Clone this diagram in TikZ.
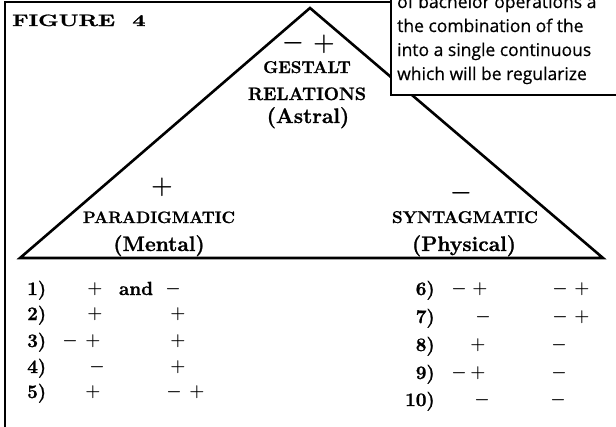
\documentclass[tikz,border=0pt]{standalone}
\usepackage{fontspec}
\usepackage{graphicx}
\setmainfont{Latin Modern Roman}[BoldFeatures={FakeBold=1.2}]
\newfontfamily\boxfont{Open Sans}[FakeBold=0.5]
\begin{document}
\begin{tikzpicture}[x=1pt,y=-1pt,
  tri/.style={line width=2.6pt, line join=miter},
  brd/.style={line width=2pt},
  head/.style={font=\bfseries\fontsize{17}{17}\selectfont, inner sep=0, anchor=base},
  paren/.style={font=\bfseries\fontsize{21}{21}\selectfont, inner sep=0, anchor=base},
  bigsign/.style={font=\boldmath\fontsize{25}{25}\selectfont, inner sep=0, anchor=base},
  sgn/.style={font=\boldmath\fontsize{19}{19}\selectfont, inner sep=0, anchor=base},
  num/.style={font=\bfseries\fontsize{19}{19}\selectfont, inner sep=0, anchor=base west},
  numr/.style={num, anchor=base east},
  boxtxt/.style={font=\boxfont\fontsize{17.5}{17.5}\selectfont, inner sep=0, anchor=base west}]
\useasboundingbox (0,0) rectangle (616,426);
\clip (0,0) rectangle (616,426);
% frame
\draw[brd] (391,2) -- (5,2) -- (5,430);
% triangle
\coordinate (apex) at (310,8);
\coordinate (bl) at (20,258);
\coordinate (br) at (603,258);
\draw[tri] (bl) -- (apex) -- (br) -- cycle;
% text box
\draw[line width=1.6pt, fill=white] (391,-5) rectangle (630,95);
\node[boxtxt] (b1) at (397,8) {of bachelor operations a};
\node[boxtxt] (b2) at (397,32) {the combination of the};
\node[boxtxt] (b3) at (397,56) {into a single continuous};
\node[boxtxt] (b4) at (397,80) {which will be regularize};
% title
\node[font=\bfseries\fontsize{16.5}{16.5}\selectfont, inner sep=0, anchor=base west] (title) at (12,26) {\scalebox{1.4}[1]{FIGURE\ \ 4}};
% apex labels
\node[bigsign] (am) at (293,49) {$-$};
\node[bigsign] (ap) at (324,50) {$+$};
\node[head] (g1) at (307,73) {GESTALT};
\node[head, font=\bfseries\fontsize{18}{18}\selectfont] (g2) at (307,100) {RELATIONS};
\node[paren] (g3) at (308,123) {(Astral)};
% left corner
\node[bigsign] (lp) at (162,193) {$+$};
\node[head, font=\bfseries\fontsize{16.5}{16.5}\selectfont] (p1) at (159,223) {PARADIGMATIC};
\node[paren] (p2) at (159,251) {(Mental)};
% right corner
\node[bigsign] (rm) at (461,199) {$-$};
\node[head] (s1) at (465,223) {SYNTAGMATIC};
\node[paren] (s2) at (464,251) {(Physical)};
% left table
\node[num] (n1) at (27,295) {1)};
\node[num] (n2) at (27,320) {2)};
\node[num] (n3) at (27,347) {3)};
\node[num] (n4) at (27,373) {4)};
\node[num] (n5) at (27,398) {5)};
\node[sgn] (t1a) at (95,293.5) {$+$};
\node[num, anchor=base] (t1b) at (136,295) {and};
\node[sgn] (t1c) at (173,293.5) {$-$};
\node[sgn] (t2a) at (95,318.5) {$+$};
\node[sgn] (t2b) at (178,318.5) {$+$};
\node[sgn] (t3a) at (70,345.5) {$-$};
\node[sgn] (t3b) at (93,345.5) {$+$};
\node[sgn] (t3c) at (178,345.5) {$+$};
\node[sgn] (t4a) at (97,371.5) {$-$};
\node[sgn] (t4b) at (178,371.5) {$+$};
\node[sgn] (t5a) at (93,396.5) {$+$};
\node[sgn] (t5b) at (174,396.5) {$-$};
\node[sgn] (t5c) at (197,396.5) {$+$};
% right table
\node[numr] (n6) at (435,295) {6)};
\node[numr] (n7) at (435,323) {7)};
\node[numr] (n8) at (435,351) {8)};
\node[numr] (n9) at (435,379) {9)};
\node[numr] (n10) at (435,406) {10)};
\node[sgn] (t6a) at (459,293.5) {$-$};
\node[sgn] (t6b) at (480,293.5) {$+$};
\node[sgn] (t6c) at (560,293.5) {$-$};
\node[sgn] (t6d) at (582,293.5) {$+$};
\node[sgn] (t7a) at (483,321.5) {$-$};
\node[sgn] (t7b) at (560,321.5) {$-$};
\node[sgn] (t7c) at (582,321.5) {$+$};
\node[sgn] (t8a) at (478,349.5) {$+$};
\node[sgn] (t8b) at (559,349.5) {$-$};
\node[sgn] (t9a) at (459,377.5) {$-$};
\node[sgn] (t9b) at (478,377.5) {$+$};
\node[sgn] (t9c) at (559,377.5) {$-$};
\node[sgn] (t10a) at (482,404.5) {$-$};
\node[sgn] (t10b) at (558,404.5) {$-$};
\end{tikzpicture}
\end{document}
